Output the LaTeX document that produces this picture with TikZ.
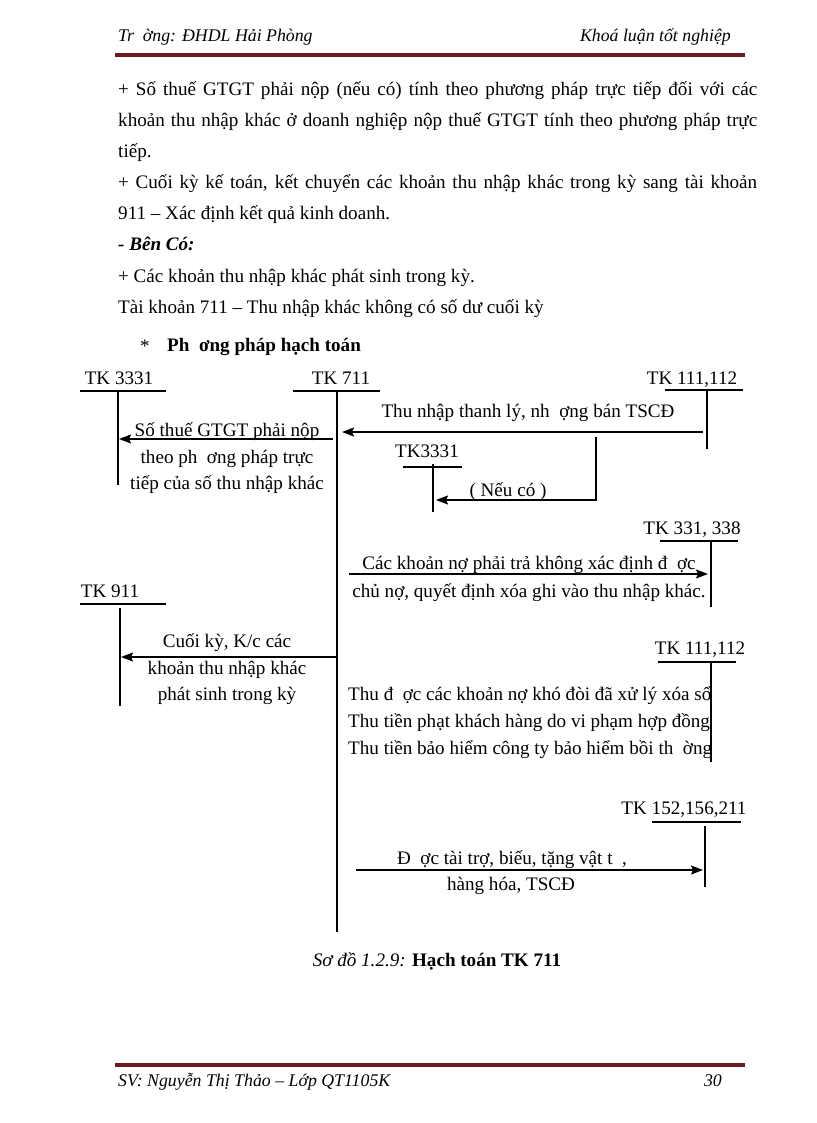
\documentclass[tikz,border=0pt]{standalone}
\usepackage{fontspec}
\setmainfont{Liberation Serif}
\usetikzlibrary{arrows.meta}
\definecolor{barred}{HTML}{6E1D1D}
\begin{document}
\begin{tikzpicture}[x=1pt,y=-1pt,
  body/.style={font=\fontsize{19.1}{23}\selectfont, inner sep=0pt, anchor=base west},
  hdr/.style={font=\fontsize{17.8}{21}\itshape\selectfont, inner sep=0pt, anchor=base west},
  lab/.style={font=\fontsize{19.1}{23}\selectfont, inner sep=0pt, anchor=base},
  labw/.style={font=\fontsize{19.1}{23}\selectfont, inner sep=0pt, anchor=base west},
  bar/.style={barred, line width=4pt},
  tline/.style={line width=1.2pt},
  vline/.style={line width=1.5pt},
  arr/.style={line width=1.5pt, -{Stealth[length=12pt,width=9pt,inset=2pt]}},
  plain/.style={line width=1.5pt}]
\useasboundingbox (0,0) rectangle (816,1123);
% header
\node[hdr] (h1) at (118,42) {Tr\ \ ờng: ĐHDL Hải Phòng};
\node[hdr, anchor=base east] (h2) at (731,42) {Khoá luận tốt nghiệp};
\draw[bar] (115,55) -- (745,55);
% body text
\node[body] (t1) at (118,96) {\makebox[639pt][s]{+ Số thuế GTGT phải nộp (nếu có) tính theo phương pháp trực tiếp đối với các}};
\node[body] (t2) at (118,127) {\makebox[639pt][s]{khoản thu nhập khác ở doanh nghiệp nộp thuế GTGT tính theo phương pháp trực}};
\node[body] (t3) at (118,158) {tiếp.};
\node[body] (t4) at (118,189) {\makebox[639pt][s]{+ Cuối kỳ kế toán, kết chuyển các khoản thu nhập khác trong kỳ sang tài khoản}};
\node[body] (t5) at (118,220) {911 – Xác định kết quả kinh doanh.};
\node[body] (t6) at (118,251) {\textbf{\textit{- Bên Có:}}};
\node[body] (t7) at (118,282) {+ Các khoản thu nhập khác phát sinh trong kỳ.};
\node[body] (t8) at (118,313) {Tài khoản 711 – Thu nhập khác không có số dư cuối kỳ};
\node[body] (t9) at (140,352) {*};
\node[body] (t10) at (167,351) {\textbf{Ph\ \ ơng pháp hạch toán}};
% T accounts
\node[lab] (k3331) at (119,384) {TK 3331};
\draw[tline] (80,391) -- (166,391);
\coordinate (v3331t) at (118,391); \coordinate (v3331b) at (118,485);
\draw[vline] (v3331t) -- (v3331b);

\node[lab] (k711) at (341,384) {TK 711};
\draw[tline] (293,391) -- (380,391);
\coordinate (v711t) at (337,392); \coordinate (v711b) at (337,932);
\draw[vline] (v711t) -- (v711b);

\node[lab] (k111a) at (692,384) {TK 111,112};
\draw[tline] (665,390) -- (743,390);
\coordinate (v111t) at (707,390); \coordinate (v111b) at (707,449);
\draw[vline] (v111t) -- (v111b);

\node[lab] (k3331b) at (427,457) {TK3331};
\draw[tline] (403,467) -- (462,467);
\coordinate (vs3331t) at (433,464); \coordinate (vs3331b) at (433,512);
\draw[vline] (vs3331t) -- (vs3331b);

\node[lab] (k331) at (692,534) {TK 331, 338};
\draw[tline] (660,541) -- (738,541);
\coordinate (v331t) at (711,541); \coordinate (v331b) at (711,607);
\draw[vline] (v331t) -- (v331b);

\node[lab] (k911) at (110,597) {TK 911};
\draw[tline] (80,604) -- (166,604);
\coordinate (v911t) at (120,608); \coordinate (v911b) at (120,706);
\draw[vline] (v911t) -- (v911b);

\node[lab] (k111b) at (700,654) {TK 111,112};
\draw[tline] (658,662) -- (736,662);
\coordinate (v111bt) at (711,662); \coordinate (v111bb) at (711,762);
\draw[vline] (v111bt) -- (v111bb);

\node[lab] (k152) at (684,814) {TK 152,156,211};
\draw[tline] (652,822) -- (741,822);
\coordinate (v152t) at (705,826); \coordinate (v152b) at (705,887);
\draw[vline] (v152t) -- (v152b);

% arrows
\coordinate (a1s) at (703,432); \coordinate (a1e) at (342,432);
\draw[arr] (a1s) -- (a1e);
\node[lab] (l1) at (528,417) {Thu nhập thanh lý, nh\ \ ợng bán TSCĐ};

\coordinate (a2s) at (333,439); \coordinate (a2e) at (119,439);
\draw[arr] (a2s) -- (a2e);
\node[lab] (l2a) at (227,436) {Số thuế GTGT phải nộp};
\node[lab] (l2b) at (227,463) {theo ph\ \ ơng pháp trực};
\node[lab] (l2c) at (227,489) {tiếp của số thu nhập khác};

\coordinate (a3a) at (596,437); \coordinate (a3b) at (596,500); \coordinate (a3e) at (436,500);
\draw[arr] (a3a) -- (a3b) -- (a3e);
\node[lab] (l3) at (508,496) {( Nếu có )};

\coordinate (a4s) at (349,574); \coordinate (a4e) at (708,574);
\draw[arr] (a4s) -- (a4e);
\node[lab] (l4a) at (529,569) {Các khoản nợ phải trả không xác định đ\ \ ợc};
\node[lab] (l4b) at (529,597) {chủ nợ, quyết định xóa ghi vào thu nhập khác.};

\coordinate (a5s) at (337,657); \coordinate (a5e) at (121,657);
\draw[arr] (a5s) -- (a5e);
\node[lab] (l5a) at (227,647) {Cuối kỳ, K/c các};
\node[lab] (l5b) at (227,674) {khoản thu nhập khác};
\node[lab] (l5c) at (227,700) {phát sinh trong kỳ};

\node[labw] (l6a) at (348,700) {Thu đ\ \ ợc các khoản nợ khó đòi đã xử lý xóa sổ};
\node[labw] (l6b) at (348,727) {Thu tiền phạt khách hàng do vi phạm hợp đồng};
\node[labw] (l6c) at (348,754) {Thu tiền bảo hiểm công ty bảo hiểm bồi th\ \ ờng};

\coordinate (a7s) at (356,870); \coordinate (a7e) at (703,870);
\draw[arr] (a7s) -- (a7e);
\node[lab] (l7a) at (512,864) {Đ\ \ ợc tài trợ, biếu, tặng vật t\ \ ,};
\node[lab] (l7b) at (511,890) {hàng hóa, TSCĐ};

% caption
\node[lab] (cap) at (437,966) {\textit{Sơ đồ 1.2.9:} \textbf{Hạch toán TK 711}};

% footer
\draw[bar] (115,1065) -- (745,1065);
\node[hdr] (f1) at (118,1086) {SV: Nguyễn Thị Thảo – Lớp QT1105K};
\node[hdr, anchor=base east] (f2) at (722,1086) {30};
\end{tikzpicture}
\end{document}
